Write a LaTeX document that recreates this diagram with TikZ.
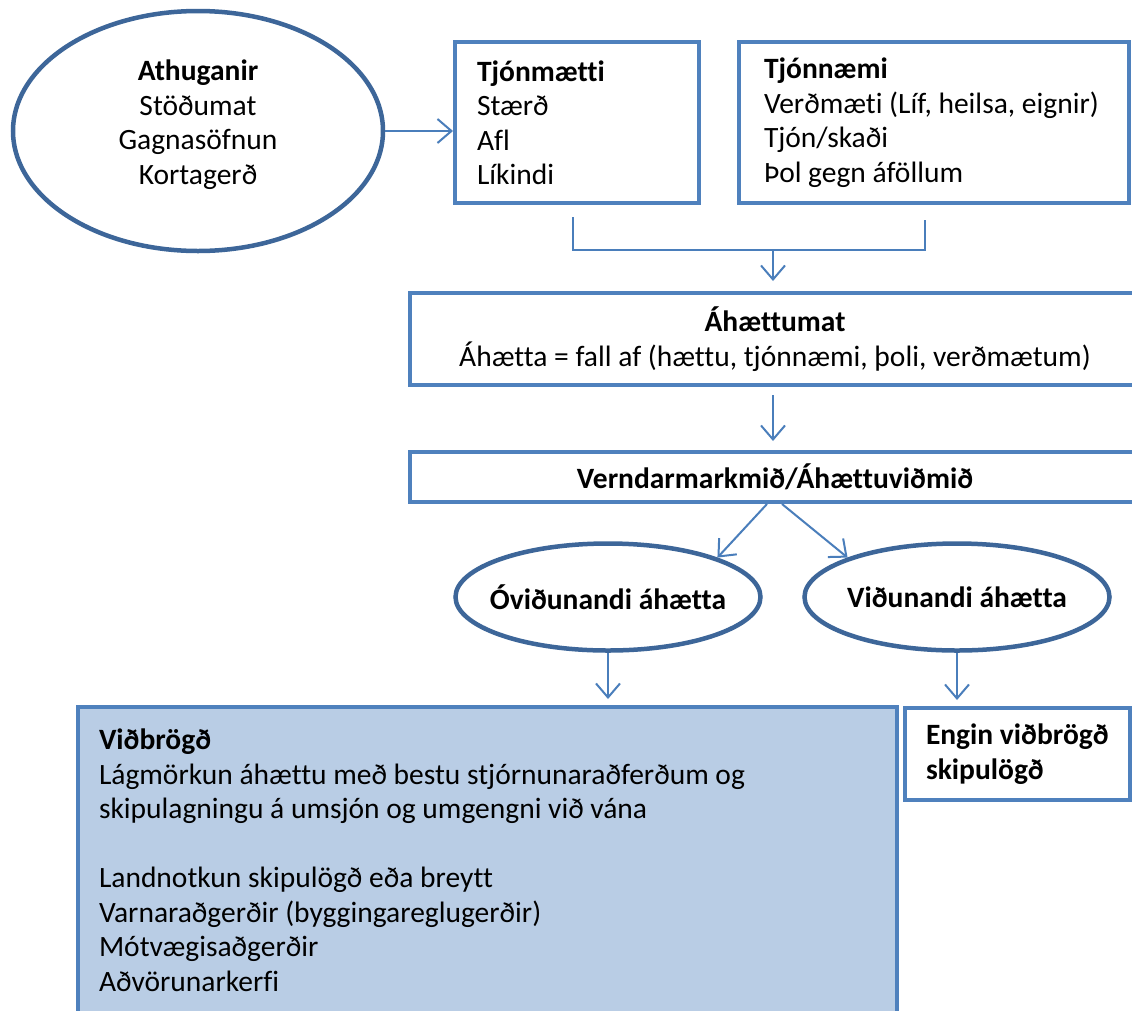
\documentclass[tikz,border=0pt]{standalone}
\usepackage{fontspec}
\setmainfont{Carlito}[Ligatures={NoCommon}]
\usetikzlibrary{shapes.geometric,arrows.meta,calc}
\definecolor{boxblue}{HTML}{4F81BD}
\definecolor{ellblue}{HTML}{3D6699}
\definecolor{fillblue}{HTML}{B9CDE5}
\definecolor{arrblue}{HTML}{4A7EBB}
\newcommand\rs{\spaceskip=0pt\xspaceskip=0pt\relax}
\begin{document}
\begin{tikzpicture}[x=1pt,y=-1pt,
  every node/.style={font=\fontsize{29.5}{34.5}\selectfont, text=black},
  oval/.style={ellipse, draw=ellblue, line width=4.5pt, inner sep=0pt, align=center},
  box/.style={rectangle, draw=boxblue, line width=4pt, inner sep=0pt},
  arr/.style={draw=arrblue, line width=2pt, -{Straight Barb[length=14pt,width=24pt]}},
  link/.style={draw=arrblue, line width=2pt}]
\clip (0,0) rectangle (1132,1010);
\fill[white] (0,0) rectangle (1132,1010);

\node[oval, minimum width=370, minimum height=240] (ath) at (198,131)
  {\textbf{Athuganir}\\Stöðumat\\Gagnasöfnun\\Kortagerð\\[-17pt]\mbox{}};

\node[box, minimum width=244, minimum height=161, text width=200, inner xsep=20pt, align=flush left] (tjm) at (577,122.5)
  {\rs\textbf{Tjónmætti}\\Stærð\\Afl\\Líkindi};

\node[box, minimum width=390, minimum height=161, text width=340, inner xsep=25pt, align=flush left] (tjn) at (934,122.5)
  {\rs\textbf{Tjónnæmi}\\\mbox{Verðmæti (Líf, heilsa, eignir)}\\Tjón/skaði\\Þol gegn áföllum};

\node[box, minimum width=730, minimum height=92, text width=700, align=flush center] (ahm) at (775,339)
  {\rs\textbf{Áhættumat}\\Áhætta = fall af (hættu, tjónnæmi, þoli, verðmætum)};

\node[box, minimum width=730, minimum height=50, text width=700, align=flush center] (ver) at (775,477)
  {\rs\textbf{Verndarmarkmið/Áhættuviðmið}};

\node[oval, minimum width=305, minimum height=107] (ov) at (608,597)
  {\makebox[0pt]{\textbf{Óviðunandi áhætta}}};

\node[oval, minimum width=305, minimum height=107] (vi) at (957,597)
  {\makebox[0pt]{\textbf{Viðunandi áhætta}}};

\node[box, fill=fillblue, minimum width=819, minimum height=306, text width=777, inner xsep=21pt, align=flush left] (vid) at (487.5,860)
  {\rs\textbf{Viðbrögð}\\\mbox{Lágmörkun áhættu með bestu stjórnunaraðferðum og}\\skipulagningu á umsjón og umgengni við vána\\[34.5pt]Landnotkun skipulögð eða breytt\\Varnaraðgerðir (byggingareglugerðir)\\Mótvægisaðgerðir\\Aðvörunarkerfi};

\node[box, minimum width=225, minimum height=92, text width=183, inner xsep=21pt, align=flush left] (eng) at (1017.5,754)
  {\rs\mbox{\textbf{Engin viðbrögð}}\\\textbf{skipulögð}};

\draw[arr] (ath.east) -- (ath.east -| tjm.west);
\coordinate (m) at (773,250);
\coordinate (c1) at ([xshift=-4pt,yshift=-12pt]tjm.south);
\coordinate (c2) at ([xshift=-9pt,yshift=-15pt]tjn.south);
\draw[link] (c1) |- (c2 |- m) -- (c2);
\draw[arr] (m) -- ($(m |- ahm.north)+(0,-10)$);
\draw[arr] ($(m |- ahm.south)+(0,8)$) -- ($(m |- ver.north)+(0,-9)$);
\draw[arr] ([xshift=-8pt]ver.south) -- (ov.north east);
\draw[arr] ([xshift=7pt]ver.south) -- (vi.north west);
\draw[arr] (ov.south) -- ($(ov.south |- vid.north)+(0,-6)$);
\draw[arr] (vi.south) -- ($(vi.south |- eng.north)+(0,-6)$);
\end{tikzpicture}
\end{document}
